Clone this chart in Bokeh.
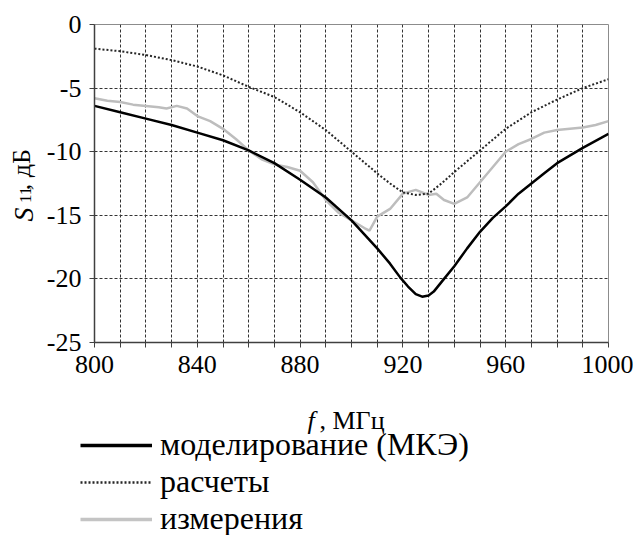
import math
from bokeh.plotting import figure
from bokeh.models import Range1d, FixedTicker, Legend, LegendItem
from bokeh.layouts import column, row
from bokeh.core.properties import value
from bokeh.embed import file_html
from bokeh.resources import INLINE

# ---- data ----
model_f = [800, 810, 820, 830, 840, 850, 860, 870, 880, 890, 900, 905, 910, 915, 919, 922, 925, 927.5,
           930, 932, 936, 940, 945, 950, 955, 960, 965, 970, 975, 980, 990, 1000]
model_s = [-6.4, -6.9, -7.4, -7.9, -8.5, -9.1, -9.9, -10.9, -12.2, -13.6, -15.4, -16.5, -17.6, -18.8, -19.9,
           -20.6, -21.2, -21.4, -21.3, -21.0, -20.0, -19.0, -17.6, -16.3, -15.2, -14.3, -13.3, -12.5, -11.7,
           -10.9, -9.7, -8.6]

calc_f = [800, 810, 820, 830, 840, 850, 860, 870, 880, 890, 900, 910, 915, 920, 925, 930, 935, 940,
          950, 960, 970, 980, 990, 1000]
calc_s = [-1.9, -2.1, -2.4, -2.8, -3.3, -4.0, -4.9, -5.7, -6.9, -8.3, -10.0, -11.7, -12.5, -13.2, -13.4,
          -13.3, -12.5, -11.6, -9.9, -8.2, -6.9, -5.9, -5.0, -4.3]

meas_f = [800, 805, 810, 815, 820, 825, 828, 832, 836, 840, 845, 850, 855, 860, 865, 870, 875, 880, 885,
          890, 895, 900, 905, 907, 910, 915, 920, 925, 930, 933, 936, 940, 945, 950, 955, 960, 965, 970,
          975, 980, 985, 990, 995, 1000]
meas_s = [-5.8, -6.0, -6.1, -6.3, -6.4, -6.5, -6.6, -6.4, -6.6, -7.2, -7.6, -8.2, -9.0, -9.9, -10.6, -11.0,
          -11.2, -11.5, -12.4, -13.8, -14.8, -15.4, -16.0, -16.2, -15.1, -14.5, -13.3, -13.0, -13.4, -13.3,
          -13.8, -14.1, -13.6, -12.4, -11.2, -10.0, -9.4, -9.0, -8.5, -8.3, -8.2, -8.1, -7.9, -7.6]

x_major = [800, 840, 880, 920, 960, 1000]
x_minor = [810, 820, 830, 850, 860, 870, 890, 900, 910, 930, 940, 950, 970, 980, 990]
y_major = [-25, -20, -15, -10, -5, 0]

legend_names = ["моделирование (МКЭ)", "расчеты", "измерения"]
x_title = ["f", ", МГц"]
y_title = ["S", "11", ", дБ"]

FONT = "Liberation Serif"

MEAS_STYLE = dict(line_color="#bdbdbd", line_width=2.5)
CALC_STYLE = dict(line_color="#262626", line_width=2, line_dash="2 2")
MODEL_STYLE = dict(line_color="black", line_width=2.5)

# ---- main chart ----
p = figure(width=593, height=390, output_backend="svg", toolbar_location=None,
           x_range=Range1d(800, 1000), y_range=Range1d(-25, 0),
           min_border_left=54, min_border_right=25, min_border_top=24, min_border_bottom=48)
p.background_fill_color = "white"
p.border_fill_color = "white"
p.outline_line_color = "#8c8c8c"
p.outline_line_width = 1

p.xaxis.ticker = FixedTicker(ticks=x_major, minor_ticks=x_minor)
p.yaxis.ticker = FixedTicker(ticks=y_major, minor_ticks=[])
for ax in (p.xaxis[0], p.yaxis[0]):
    ax.axis_line_color = "#404040"
    ax.axis_line_width = 1.5
    ax.major_tick_line_color = "#404040"
    ax.minor_tick_line_color = "#404040"
    ax.major_tick_in = 0
    ax.minor_tick_in = 0
    ax.major_tick_out = 5
    ax.minor_tick_out = 5
    ax.major_label_text_font = FONT
    ax.major_label_text_font_size = "26px"
    ax.major_label_text_color = "black"
p.yaxis.minor_tick_out = 0
p.xaxis.major_label_standoff = 8
p.yaxis.major_label_standoff = 8
p.yaxis.major_label_overrides = {v: str(v) for v in y_major}
p.xaxis.major_label_overrides = {v: str(v) for v in x_major}

p.xgrid.grid_line_color = "#333333"
p.xgrid.grid_line_dash = "3 2"
p.xgrid.grid_line_width = 1
p.xgrid.minor_grid_line_color = "#333333"
p.xgrid.minor_grid_line_dash = "3 2"
p.xgrid.minor_grid_line_width = 1
p.ygrid.grid_line_color = "#333333"
p.ygrid.grid_line_dash = "3 2"
p.ygrid.grid_line_width = 1

p.line(meas_f, meas_s, **MEAS_STYLE)
p.line(calc_f, calc_s, **CALC_STYLE)
p.line(model_f, model_s, **MODEL_STYLE)


def blank(w, h):
    f = figure(width=w, height=h, output_backend="svg", toolbar_location=None,
               x_axis_type=None, y_axis_type=None,
               x_range=Range1d(0, w), y_range=Range1d(h, 0),
               min_border=0, min_border_left=0, min_border_right=0,
               min_border_top=0, min_border_bottom=0)
    f.grid.visible = False
    f.outline_line_color = None
    f.background_fill_color = "white"
    f.border_fill_color = "white"
    return f


# ---- y-axis title panel (pixel coordinates of this small panel) ----
yl = blank(40, 390)
yl.text(x=[22.5], y=[233], text=[y_title[0]], angle=math.pi / 2, text_font=value(FONT),
        text_font_style="italic", text_font_size="28px", text_align="center",
        text_baseline="middle", text_color="black")
yl.text(x=[25], y=[209], text=[y_title[1]], angle=math.pi / 2, text_font=value(FONT),
        text_font_size="17px", text_align="center", text_baseline="middle", text_color="black")
yl.text(x=[21], y=[178], text=[y_title[2]], angle=math.pi / 2, text_font=value(FONT),
        text_font_size="26px", text_align="center", text_baseline="middle", text_color="black")

# ---- bottom panel: x title + legend ----
bt = blank(633, 145)
bt.text(x=[307], y=[30], text=[x_title[0]], text_font=value(FONT), text_font_style="italic",
        text_font_size="26px", text_baseline="alphabetic", text_color="black")
bt.text(x=[319], y=[30], text=[x_title[1]], text_font=value(FONT),
        text_font_size="26px", text_baseline="alphabetic", text_color="black")

# legend proxies: same data (falls outside this panel's range, so only the legend samples show)
r1 = bt.line(model_f, model_s, line_color="black", line_width=3.5)
r2 = bt.line(calc_f, calc_s, line_color="#262626", line_width=2.5, line_dash="2 2")
r3 = bt.line(meas_f, meas_s, line_color="#c4c4c4", line_width=3.5)
legend = Legend(items=[LegendItem(label=legend_names[0], renderers=[r1]),
                       LegendItem(label=legend_names[1], renderers=[r2]),
                       LegendItem(label=legend_names[2], renderers=[r3])],
                location=(80, -2), orientation="vertical",
                border_line_color=None, background_fill_alpha=0,
                padding=0, margin=0, spacing=0,
                glyph_width=72, glyph_height=20, label_height=20, label_standoff=8,
                label_text_font=FONT, label_text_font_size="32px", label_text_color="black")
bt.add_layout(legend)

layout = column(row(yl, p, spacing=0), bt, spacing=0)
open("out.html", "w").write(file_html(layout, INLINE))
